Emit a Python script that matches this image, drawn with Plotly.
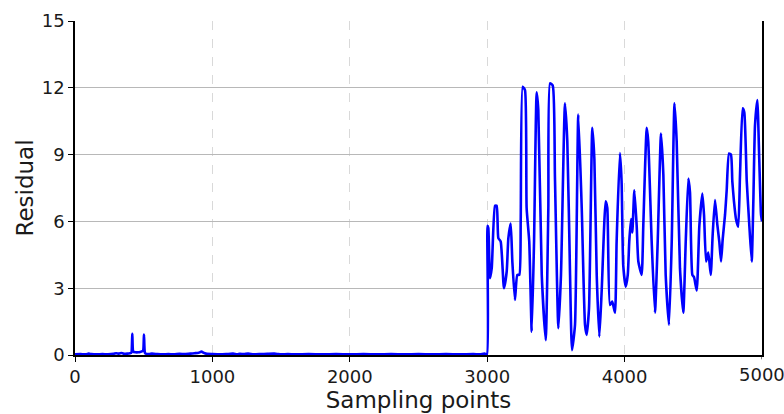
import plotly.graph_objects as go

# Sampling index (x) and residual value (y)
sample_x = [
    0, 40, 80, 100, 120, 160, 200, 240, 280, 300, 320, 340, 360, 380, 400,
    410, 417, 424, 440, 460, 480, 495, 502, 509, 520, 540, 560, 600, 640,
    680, 720, 760, 800, 840, 870, 900, 920, 940, 960, 1000, 1050, 1100,
    1150, 1180, 1200, 1230, 1260, 1300, 1350, 1400, 1450, 1480, 1500, 1550,
    1600, 1700, 1800, 1900, 2000, 2100, 2200, 2300, 2400, 2500, 2600, 2700,
    2800, 2900, 2950, 2980, 2998,
    3002, 3008, 3020, 3033, 3057, 3069, 3081, 3098, 3122, 3142, 3154, 3171,
    3183, 3202, 3219, 3234, 3244, 3258, 3275, 3287, 3306, 3324, 3341, 3360,
    3372, 3397, 3426, 3445, 3457, 3477, 3493, 3518, 3537, 3566, 3583, 3603,
    3617, 3639, 3663, 3688, 3712, 3724, 3741, 3765, 3780, 3797, 3816, 3833,
    3862, 3874, 3893, 3910, 3930, 3942, 3966, 3978, 3990, 4008, 4023, 4034,
    4047, 4056, 4071, 4088, 4100, 4124, 4136, 4161, 4172, 4197, 4221, 4241,
    4265, 4282, 4299, 4323, 4343, 4363, 4379, 4403, 4427, 4445, 4464, 4476,
    4493, 4505, 4525, 4544, 4566, 4578, 4593, 4609, 4627, 4641, 4658, 4675,
    4689, 4702, 4714, 4731, 4743, 4760, 4774, 4784, 4796, 4811, 4827, 4840,
    4859, 4871, 4889, 4905, 4925, 4937, 4949, 4966, 4980, 4993, 5000,
]
residual = [
    0.03, 0.04, 0.03, 0.06, 0.04, 0.03, 0.04, 0.03, 0.05, 0.08, 0.06, 0.09, 0.05, 0.06, 0.08,
    0.10, 0.95, 0.15, 0.12, 0.12, 0.15, 0.18, 0.92, 0.10, 0.05, 0.04, 0.06, 0.04, 0.03,
    0.04, 0.03, 0.05, 0.04, 0.06, 0.08, 0.10, 0.15, 0.09, 0.05, 0.04, 0.03, 0.04,
    0.06, 0.03, 0.05, 0.04, 0.06, 0.03, 0.04, 0.05, 0.06, 0.04, 0.03, 0.04,
    0.03, 0.04, 0.03, 0.04, 0.03, 0.04, 0.03, 0.04, 0.03, 0.04, 0.03, 0.04,
    0.03, 0.04, 0.03, 0.06, 0.03,
    5.8, 5.7, 3.45, 3.9, 6.7, 6.7, 5.25, 5.1, 3.0, 3.75, 5.25, 5.9,
    4.2, 2.47, 3.6, 3.6, 6.1, 12.05, 11.9, 6.6, 5.1, 1.05, 5.1, 11.8,
    11.0, 3.6, 0.67, 6.6, 12.2, 12.1, 8.0, 1.2, 3.6, 11.3, 9.6, 3.6,
    0.22, 1.35, 10.8, 6.6, 1.35, 0.9, 2.1, 10.2, 8.8, 3.6, 0.82, 2.85,
    6.9, 6.6, 2.25, 2.4, 1.9, 5.1, 9.07, 7.8, 4.04, 3.07, 3.6, 5.1,
    6.1, 5.5, 7.4, 5.8, 4.2, 3.6, 5.8, 10.2, 9.6, 5.1, 1.9, 5.1,
    9.95, 8.1, 3.6, 1.35, 5.1, 11.3, 9.6, 3.9, 1.9, 5.1, 7.93, 7.3,
    3.6, 3.5, 2.9, 5.8, 7.25, 6.3, 4.2, 4.6, 3.6, 5.4, 6.96, 5.84,
    5.1, 4.2, 5.2, 6.3, 7.4, 9.05, 9.0, 7.8, 6.9, 6.1, 5.76, 8.1,
    11.08, 10.9, 7.8, 6.1, 4.2, 6.9, 10.3, 11.45, 8.8, 6.3, 6.0,
]

x_ticks = [0, 1000, 2000, 3000, 4000, 5000]
y_ticks = [0, 3, 6, 9, 12, 15]

fig = go.Figure()
fig.add_trace(go.Scatter(
    x=sample_x, y=residual, mode="lines",
    line=dict(color="#0000ff", width=2.6, shape="spline", smoothing=0.5),
    showlegend=False,
))

font = "DejaVu Sans, sans-serif"
fig.update_layout(
    width=784, height=414,
    margin=dict(l=75, r=22, t=21, b=59),
    paper_bgcolor="white", plot_bgcolor="white",
    font=dict(family=font, color="#1a1a1a"),
    xaxis=dict(
        range=[0, 5000], tickvals=x_ticks[:-1], ticktext=[str(v) for v in x_ticks[:-1]],
        showgrid=True, gridcolor="#d9d9d9", griddash="dash", gridwidth=1,
        zeroline=False, showline=True, linecolor="black", linewidth=1.5,
        mirror=False, ticks="outside", ticklen=5, tickcolor="black",
        tickfont=dict(size=18, family=font), automargin=False,
        title=dict(text="Sampling points", font=dict(size=23, family=font), standoff=6),
    ),
    yaxis=dict(
        range=[0, 15], tickvals=y_ticks, ticktext=[str(v) for v in y_ticks],
        showgrid=True, gridcolor="#b8b8b8", gridwidth=1,
        zeroline=False, showline=True, linecolor="black", linewidth=1.5,
        mirror=True, ticks="outside", ticklen=5, tickcolor="black",
        tickfont=dict(size=18, family=font), automargin=False,
        title=dict(text="Residual", font=dict(size=23, family=font), standoff=2),
    ),
)

# last x tick label sits at the right edge of the picture, drawn as an annotation
fig.add_annotation(
    x=x_ticks[-1], y=0, xref="x", yref="paper", text=str(x_ticks[-1]),
    showarrow=False, yanchor="top", xanchor="center", yshift=-7,
    font=dict(size=18, family=font, color="#1a1a1a"),
)
fig.add_shape(type="line", xref="x", yref="paper", x0=x_ticks[-1], x1=x_ticks[-1],
              y0=0, y1=-0.013, line=dict(color="black", width=1))

fig.write_html("out.html")
